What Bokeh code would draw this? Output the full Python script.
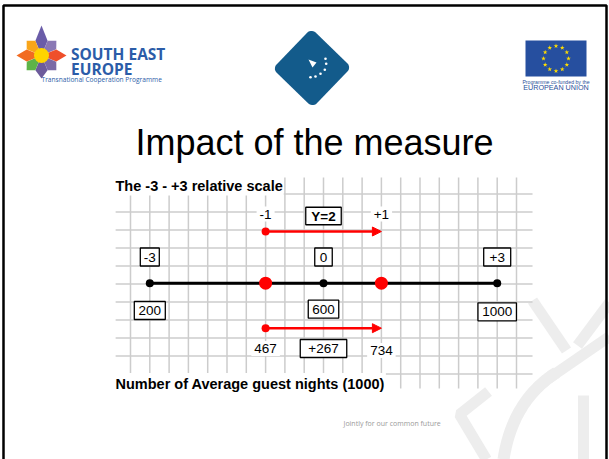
import numpy as np
from bokeh.plotting import figure
from bokeh.models import Range1d, Label, Arrow, NormalHead
from bokeh.embed import file_html
from bokeh.resources import INLINE

# ---------------- data ----------------
scale_points = [-3, 0, 3]
scale_labels = ["-3", "0", "+3"]
nights = [200, 600, 1000]
impact_scale = [-1, 1]
impact_scale_labels = ["-1", "+1"]
impact_nights = [467, 734]
impact_label = "Y=2"
impact_delta = "+267"
diagram_title = "The -3 - +3 relative scale"
diagram_xlabel = "Number of Average guest nights (1000)"
slide_title = "Impact of the measure"
footer_text = "Jointly for our common future"
see_title = ["SOUTH EAST", "EUROPE"]
see_sub = "Transnational Cooperation Programme"
eu_lines = ["Programme co-funded by the", "EUROPEAN UNION"]

# ---------------- layout ----------------
W, H = 609, 459
M = 0
UNIT = 57.9           # page px per scale unit
ZERO = 323            # page x of scale value 0
LINE_Y = 282.7
TOP_ARROW_Y = 231
BOT_ARROW_Y = 327.7
FONT = "Liberation Sans"

p = figure(width=W, height=H,
           x_range=Range1d((M - ZERO) / UNIT, (M + W - ZERO) / UNIT),
           y_range=Range1d(M + H, M),
           output_backend="svg", toolbar_location=None,
           x_axis_type=None, y_axis_type=None, min_border=0)
p.extra_x_ranges = {"px": Range1d(M, M + W)}
p.outline_line_color = None
p.background_fill_color = "white"
p.border_fill_color = "white"
for g in p.grid:
    g.visible = False

# ---------------- decorative background strokes ----------------
deco = "#ededed"
p.line(x=[488, 459, 486], y=[391, 414, 459], x_range_name="px", line_color=deco, line_width=11)
t = np.linspace(0, 1, 30)
ax = (1 - t) ** 2 * 556 + 2 * (1 - t) * t * 512 + t ** 2 * 503
ay = (1 - t) ** 2 * 372 + 2 * (1 - t) * t * 400 + t ** 2 * 459
p.line(x=ax, y=ay, x_range_name="px", line_color=deco, line_width=12)
p.line(x=[583, 583], y=[395, 459], x_range_name="px", line_color=deco, line_width=11)
p.line(x=[548, 609], y=[378, 336], x_range_name="px", line_color=deco, line_width=11)
p.line(x=[532, 566], y=[300, 350], x_range_name="px", line_color=deco, line_width=11)
p.line(x=[609, 577], y=[302, 345], x_range_name="px", line_color=deco, line_width=11)

# ---------------- slide border ----------------
p.line(x=[3, 3, 606, 606], y=[459, 5, 5, 459], x_range_name="px",
       line_color="black", line_width=2.5)

# ---------------- SEE logo ----------------
cx, cy = 41, 55
petal_colors = ["#6a5ca8", "#8a78b4", "#ef4f2a", "#7b6aa6",
                "#6c5b9b", "#5db447", "#f26b21", "#f9a51a"]
radii = [30, 21, 25, 21, 23, 21, 25, 21]
xs, ys = [], []
for i, (col, R) in enumerate(zip(petal_colors, radii)):
    th = np.deg2rad(90 - 45 * i)
    r = 16
    xs.append([cx, cx + r * np.cos(th + 0.39), cx + R * np.cos(th), cx + r * np.cos(th - 0.39)])
    ys.append([cy, cy - r * np.sin(th + 0.39), cy - R * np.sin(th), cy - r * np.sin(th - 0.39)])
p.patches(xs=xs, ys=ys, x_range_name="px", fill_color=petal_colors, line_color=None)
p.scatter(x=[cx], y=[cy], x_range_name="px", size=15, fill_color="#ffd400", line_color=None)
blue = "#2b5ca8"
for txt, yc in zip(see_title, [53.5, 68]):
    p.add_layout(Label(x=70.5, y=yc, x_range_name="px", text=txt, text_font="Open Sans",
                       text_font_style="bold", text_font_size="15.5px", text_color=blue,
                       text_baseline="middle"))
p.add_layout(Label(x=41, y=78.5, x_range_name="px", text=see_sub, text_font="Open Sans",
                   text_font_size="6.6px", text_color=blue, text_baseline="middle"))

# ---------------- centre logo ----------------
def rounded_square(cxx, cyy, half, r, ang, n=8):
    pts = []
    for sx, sy, a0 in [(1, 1, 0), (-1, 1, 90), (-1, -1, 180), (1, -1, 270)]:
        for a in np.linspace(a0, a0 + 90, n):
            pts.append((sx * (half - r) + r * np.cos(np.deg2rad(a)),
                        sy * (half - r) + r * np.sin(np.deg2rad(a))))
    pts = np.array(pts)
    c, s = np.cos(np.deg2rad(ang)), np.sin(np.deg2rad(ang))
    return cxx + pts[:, 0] * c - pts[:, 1] * s, cyy + pts[:, 0] * s + pts[:, 1] * c

dx, dy = rounded_square(311.5, 67.5, 28, 6, 44)
p.patch(x=dx, y=dy, x_range_name="px", fill_color="#135b8b", line_color=None)
p.patch(x=[308, 316, 312], y=[59, 62, 67], x_range_name="px", fill_color="white", line_color=None)
p.scatter(x=[325, 325.7, 324.3, 320, 315, 310], y=[58.3, 63.3, 69.3, 73.3, 76, 76.7],
          x_range_name="px", size=2.6, fill_color="white", line_color=None)

# ---------------- EU flag ----------------
p.quad(left=525, right=586, top=40, bottom=76, x_range_name="px", fill_color="#264f9f", line_color=None)
ang = np.deg2rad(np.arange(12) * 30)
p.scatter(x=555.5 + 12.5 * np.cos(ang), y=58 + 12.5 * np.sin(ang), x_range_name="px",
          marker="star", size=5, fill_color="#ffdd00", line_color=None)
p.add_layout(Label(x=555.5, y=81, x_range_name="px", text=eu_lines[0], text_font=FONT,
                   text_font_size="5.2px", text_color="#2a4f9a", text_align="center",
                   text_baseline="middle"))
p.add_layout(Label(x=555.5, y=87, x_range_name="px", text=eu_lines[1], text_font=FONT,
                   text_font_size="7.2px", text_color="#2a4f9a", text_align="center",
                   text_baseline="middle"))

# ---------------- slide title ----------------
p.add_layout(Label(x=314, y=142, x_range_name="px", text=slide_title, text_font=FONT,
                   text_font_size="36px", text_color="black", text_align="center",
                   text_baseline="middle"))

# ---------------- diagram grid ----------------
grid_col = "#cccccc"
vx = np.arange(-10, 11) / 3
p.segment(x0=vx, y0=177, x1=vx, y1=388, line_color=grid_col, line_width=1.5)
hy = 193.5 + 18 * np.arange(11)
p.segment(x0=-3.59, y0=hy, x1=3.61, y1=hy, line_color=grid_col, line_width=1.5)

# ---------------- scale line & points ----------------
p.line(x=scale_points, y=[LINE_Y] * len(scale_points), line_color="black", line_width=3)
p.scatter(x=scale_points, y=[LINE_Y] * len(scale_points), size=8, fill_color="black", line_color=None)
p.scatter(x=impact_scale, y=[LINE_Y] * len(impact_scale), size=13, fill_color="red", line_color=None)

for yy in (TOP_ARROW_Y, BOT_ARROW_Y):
    p.add_layout(Arrow(x_start=impact_scale[0], y_start=yy, x_end=impact_scale[1], y_end=yy,
                       line_color="red", line_width=2.5,
                       end=NormalHead(size=9, fill_color="red", line_color="red")))
    p.scatter(x=[impact_scale[0]], y=[yy], size=8, fill_color="red", line_color=None)

# ---------------- labels ----------------
def boxed(text, x, y, w, bold=False, h=18):
    p.rect(x=[x], y=[y], width=w, height=h, width_units="screen", height_units="screen",
           fill_color="white", line_color="black", line_width=1.3)
    p.add_layout(Label(x=x, y=y, text=text, text_font=FONT, text_font_size="13.5px",
                       text_font_style="bold" if bold else "normal", text_color="black",
                       text_align="center", text_baseline="middle"))

def plain(text, x, y, bold=False, size="13.5px", rng="default", align="center", pad=(3, 3)):
    p.add_layout(Label(x=x, y=y, text=text, text_font=FONT, text_font_size=size,
                       text_font_style="bold" if bold else "normal", text_color="black",
                       text_align=align, text_baseline="middle", background_fill_color="white",
                       x_range_name=rng, padding=pad))

scale_box_w = [19, 17.5, 27]
for s, t_, bw in zip(scale_points, scale_labels, scale_box_w):
    boxed(t_, s, 256.5, bw)
night_box_w = [31, 30.5, 38.5]
night_y = [310, 308.7, 311.3]
for s, n, bw, yy in zip(scale_points, nights, night_box_w, night_y):
    boxed(str(n), s, yy, bw)
for s, t_ in zip(impact_scale, impact_scale_labels):
    plain(t_, s, 213.5)
boxed(impact_label, 0, 215.5, 35.5, bold=True, h=17.5)
for s, n, yy in zip(impact_scale, impact_nights, [348, 350]):
    plain(str(n), s, yy)
boxed(impact_delta, 0, 348, 46.5)
plain(diagram_title, 114, 185, bold=True, size="14.5px", rng="px", align="left", pad=(1, 2))
plain(diagram_xlabel, 114, 383.5, bold=True, size="14.5px", rng="px", align="left", pad=(1, 3))

# ---------------- footer ----------------
p.add_layout(Label(x=343, y=423, x_range_name="px", text=footer_text, text_font="Open Sans",
                   text_font_size="7px", text_color="#9a9a9a", text_baseline="middle"))

open("out.html", "w").write(file_html(p, INLINE))
